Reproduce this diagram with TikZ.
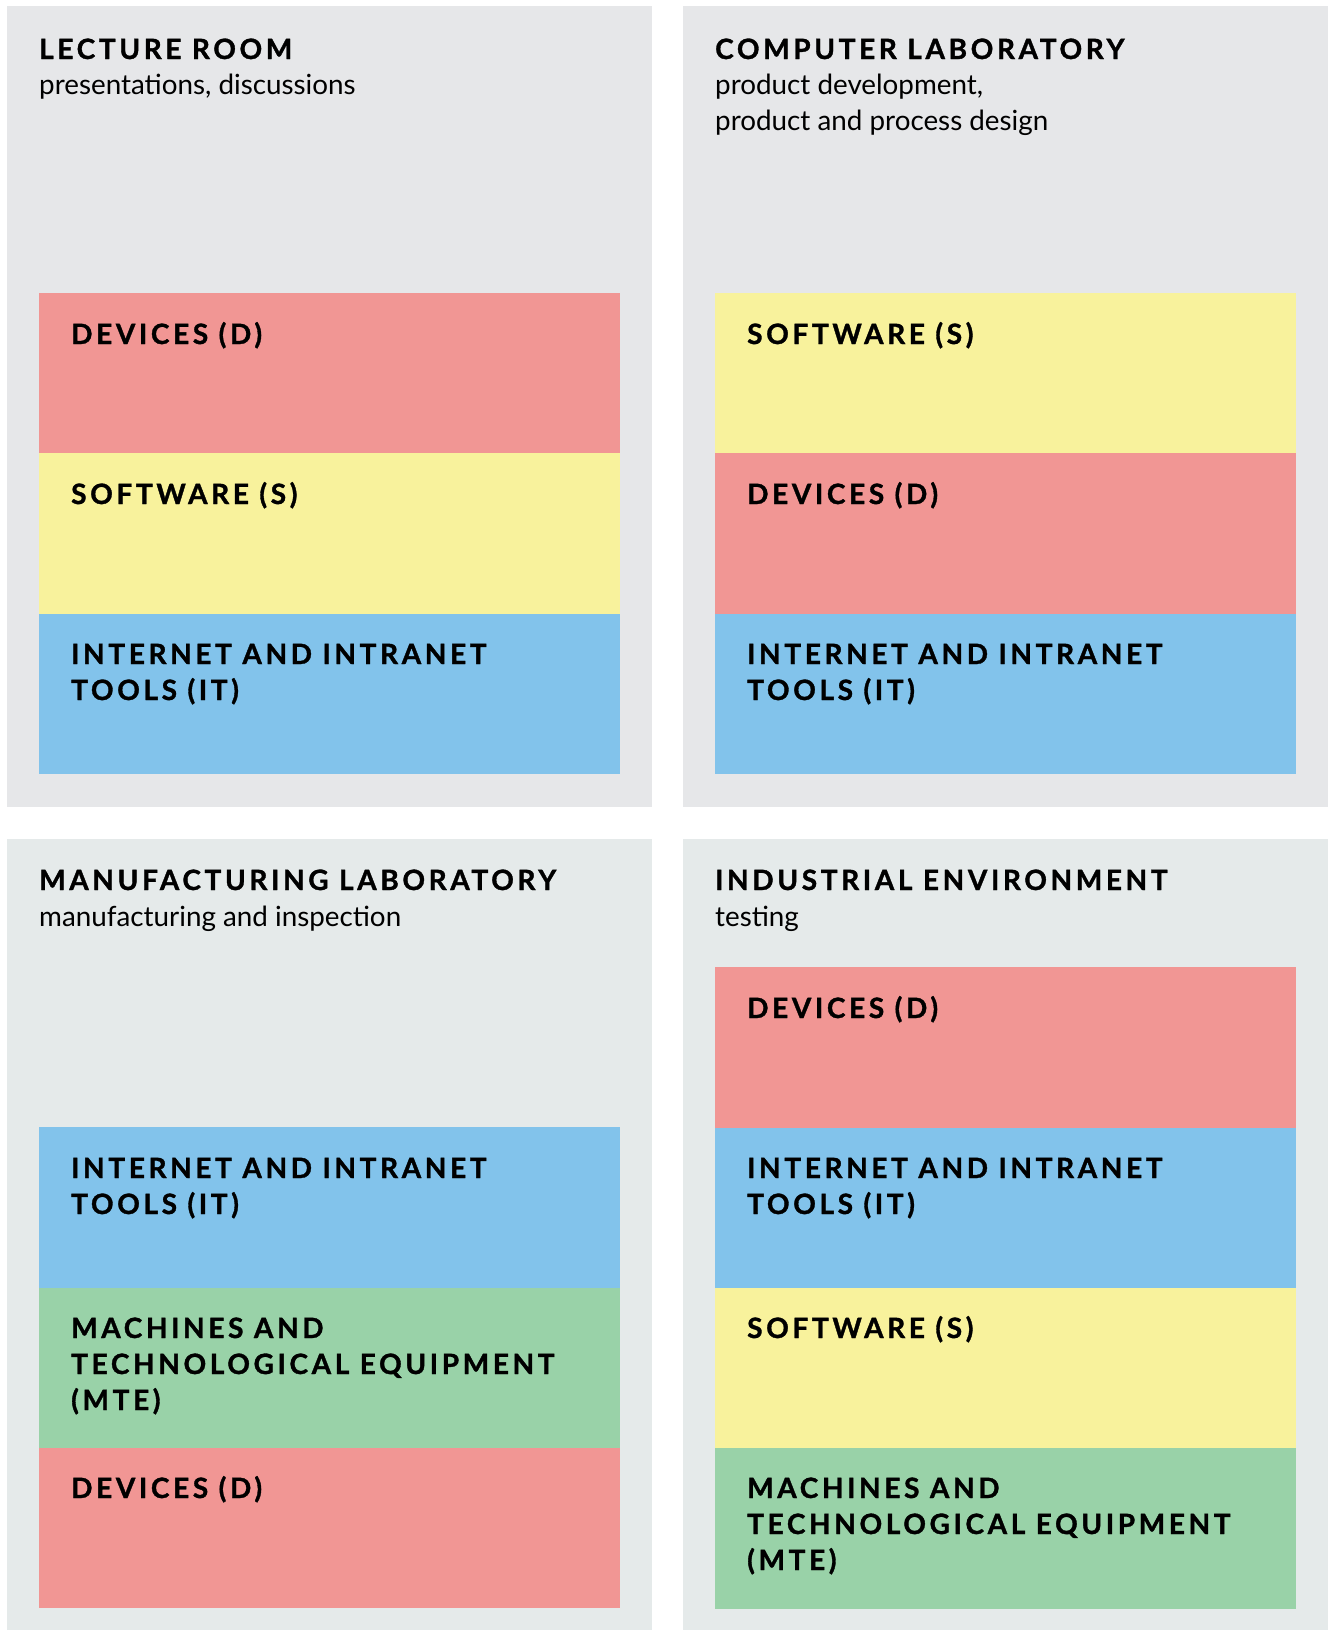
\documentclass[tikz,border=0pt]{standalone}
\usepackage{fontspec}
\setmainfont{Lato}
\newfontfamily\hfont{Lato}[LetterSpace=13, BoldFeatures={FakeBold=1.2}]
\definecolor{panelgray}{HTML}{E6E7E9}
\definecolor{panelgreen}{HTML}{E5EAEA}
\definecolor{devred}{HTML}{F19694}
\definecolor{softyellow}{HTML}{F8F29C}
\definecolor{itblue}{HTML}{82C3EB}
\definecolor{mtegreen}{HTML}{99D2A8}
\tikzset{
  panel/.style={anchor=north west, inner sep=0pt, minimum width=645pt, minimum height=#1},
  layer/.style={anchor=north west, inner sep=0pt, minimum width=581pt, minimum height=160.5pt},
  ttl/.style={anchor=base west, inner sep=0pt, font=\hfont\fontsize{28}{34}\selectfont\bfseries},
  sub/.style={anchor=base west, inner sep=0pt, font=\fontsize{27.8}{36}\selectfont},
  lbl/.style={anchor=base west, inner sep=0pt, font=\hfont\fontsize{28}{34}\selectfont\bfseries},
}
\begin{document}
\begin{tikzpicture}[x=1pt,y=-1pt]
\useasboundingbox (0,0) rectangle (1328,1630);
% panels
\node[panel=801pt, fill=panelgray] (p1) at (7,6) {};
\node[panel=801pt, fill=panelgray] (p2) at (683,6) {};
\node[panel=791pt, fill=panelgreen] (p3) at (7,839) {};
\node[panel=791pt, fill=panelgreen] (p4) at (683,839) {};
% titles
\node[ttl] (t1) at (39,59) {LECTURE ROOM};
\node[sub] (s1) at (39,94) {presentations, discussions};
\node[ttl] (t2) at (715,59) {COMPUTER LABORATORY};
\node[sub] (s2a) at (715,94) {product development,};
\node[sub] (s2b) at (715,130) {product and process design};
\node[ttl] (t3) at (39,890) {MANUFACTURING LABORATORY};
\node[sub] (s3) at (39,926) {manufacturing and inspection};
\node[ttl] (t4) at (715,890) {INDUSTRIAL ENVIRONMENT};
\node[sub] (s4) at (715,926) {testing};
% panel 1
\node[layer, fill=devred] (a1) at (39,293) {};
\node[layer, fill=softyellow] (a2) at (39,453) {};
\node[layer, fill=itblue] (a3) at (39,613.5) {};
\node[lbl] (a1t) at (71,344) {DEVICES (D)};
\node[lbl] (a2t) at (71,504) {SOFTWARE (S)};
\node[lbl] (a3t) at (71,664) {INTERNET AND INTRANET};
\node[lbl] (a3u) at (71,700) {TOOLS (IT)};
% panel 2
\node[layer, fill=softyellow] (b1) at (715,293) {};
\node[layer, fill=devred] (b2) at (715,453) {};
\node[layer, fill=itblue] (b3) at (715,613.5) {};
\node[lbl] (b1t) at (747,344) {SOFTWARE (S)};
\node[lbl] (b2t) at (747,504) {DEVICES (D)};
\node[lbl] (b3t) at (747,664) {INTERNET AND INTRANET};
\node[lbl] (b3u) at (747,700) {TOOLS (IT)};
% panel 3
\node[layer, fill=itblue] (c1) at (39,1127) {};
\node[layer, fill=mtegreen] (c2) at (39,1287.5) {};
\node[layer, fill=devred] (c3) at (39,1447.5) {};
\node[lbl] (c1t) at (71,1178) {INTERNET AND INTRANET};
\node[lbl] (c1u) at (71,1214) {TOOLS (IT)};
\node[lbl] (c2t) at (71,1338) {MACHINES AND};
\node[lbl] (c2u) at (71,1374) {TECHNOLOGICAL EQUIPMENT};
\node[lbl] (c2v) at (71,1410) {(MTE)};
\node[lbl] (c3t) at (71,1498) {DEVICES (D)};
% panel 4
\node[layer, fill=devred] (d1) at (715,967) {};
\node[layer, fill=itblue] (d2) at (715,1127.5) {};
\node[layer, fill=softyellow] (d3) at (715,1288) {};
\node[layer, fill=mtegreen] (d4) at (715,1448) {};
\node[lbl] (d1t) at (747,1018) {DEVICES (D)};
\node[lbl] (d2t) at (747,1178) {INTERNET AND INTRANET};
\node[lbl] (d2u) at (747,1214) {TOOLS (IT)};
\node[lbl] (d3t) at (747,1338) {SOFTWARE (S)};
\node[lbl] (d4t) at (747,1498) {MACHINES AND};
\node[lbl] (d4u) at (747,1534) {TECHNOLOGICAL EQUIPMENT};
\node[lbl] (d4v) at (747,1570) {(MTE)};
\end{tikzpicture}
\end{document}
